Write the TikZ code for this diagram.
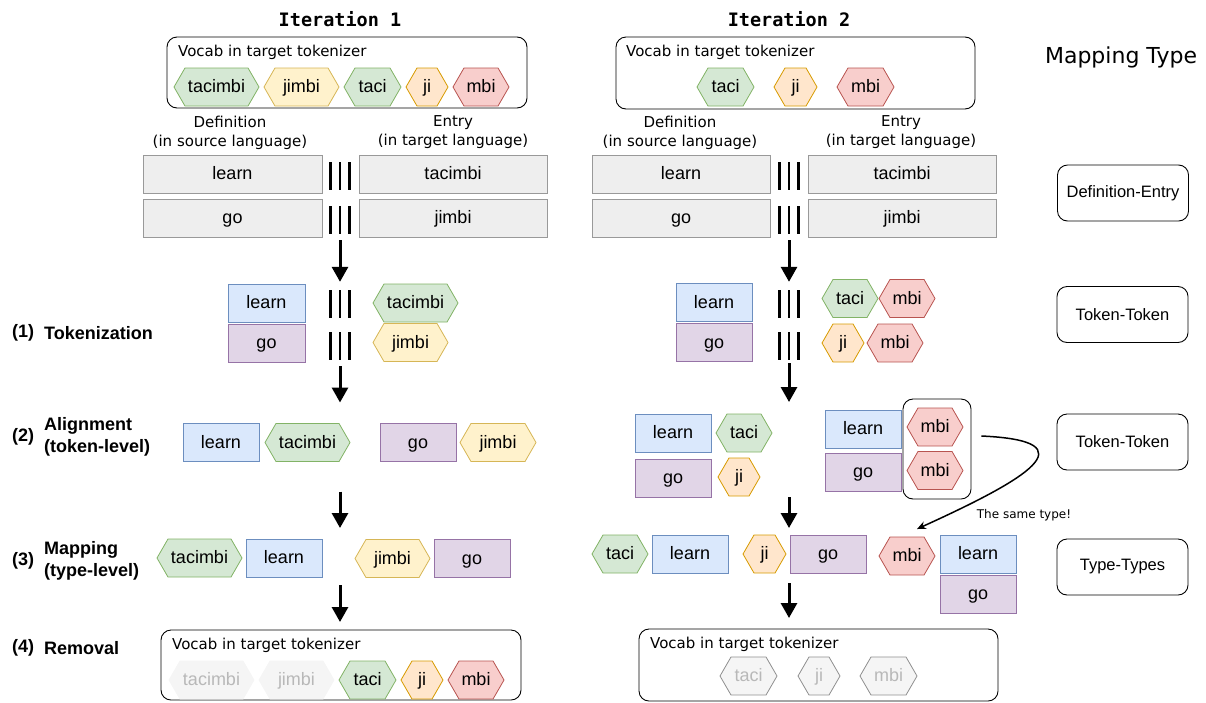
\documentclass[tikz,border=0pt]{standalone}
\usepackage{fontspec}
\setmainfont{Liberation Sans}
\newfontfamily\dejavu{DejaVu Sans}
\newfontfamily\dejavumono{DejaVu Sans Mono}
\usetikzlibrary{arrows.meta,positioning,shapes.symbols}
\definecolor{BlueFill}{HTML}{DAE8FC}
\definecolor{BlueLine}{HTML}{6C8EBF}
\definecolor{PurpleFill}{HTML}{E1D5E7}
\definecolor{PurpleLine}{HTML}{9673A6}
\definecolor{GreenFill}{HTML}{D5E8D4}
\definecolor{GreenLine}{HTML}{82B366}
\definecolor{YellowFill}{HTML}{FFF2CC}
\definecolor{YellowLine}{HTML}{D6B656}
\definecolor{OrangeFill}{HTML}{FFE6CC}
\definecolor{OrangeLine}{HTML}{D79B00}
\definecolor{RedFill}{HTML}{F8CECC}
\definecolor{RedLine}{HTML}{B85450}
\definecolor{GoneFill}{HTML}{F5F5F5}
\definecolor{GoneLine}{HTML}{8F8F8F}
\definecolor{GoneText}{HTML}{B8B8B8}
\definecolor{DictFill}{HTML}{EEEEEE}
\definecolor{DictLine}{HTML}{999999}
\newcommand\tokfont{\fontsize{18}{22}\selectfont}
\newcommand\notefont{\dejavu\fontsize{15}{19}\selectfont}
\newcommand\typefont{\fontsize{16.5}{19}\selectfont}
\newcommand\titlefont{\dejavumono\bfseries\fontsize{18.5}{22}\selectfont}
\tikzset{
  hexa/.style={shape=signal, signal to=east and west, signal pointer angle=120,
    minimum width=#1, minimum height=38pt, inner xsep=1pt, inner ysep=0pt,
    text height=14pt, text depth=3pt,
    outer sep=0pt, line width=0.8pt, font=\tokfont},
  hexa/.default=56pt,
  hgreen/.style={hexa=#1, fill=GreenFill, draw=GreenLine}, hgreen/.default=56pt,
  hyellow/.style={hexa=#1, fill=YellowFill, draw=YellowLine}, hyellow/.default=75pt,
  horange/.style={hexa=#1, fill=OrangeFill, draw=OrangeLine}, horange/.default=42pt,
  hred/.style={hexa=#1, fill=RedFill, draw=RedLine}, hred/.default=56pt,
  gone/.style={hexa=#1, fill=GoneFill, draw=GoneFill, text=GoneText},
  gonelined/.style={hexa=#1, fill=GoneFill, draw=GoneLine, text=GoneText},
  tok/.style={rectangle, minimum width=76pt, minimum height=38pt, inner sep=0pt,
    text height=14pt, text depth=3pt,
    outer sep=0pt, line width=0.8pt, font=\tokfont},
  tblue/.style={tok, fill=BlueFill, draw=BlueLine},
  tpurple/.style={tok, fill=PurpleFill, draw=PurpleLine},
  dict/.style={rectangle, fill=DictFill, draw=DictLine, line width=0.8pt,
    text height=14pt, text depth=3pt,
    minimum width=#1, minimum height=38pt, outer sep=0pt, font=\tokfont},
  vocab/.style={draw, rounded corners=10pt, line width=0.9pt, minimum width=360pt,
    minimum height=71pt, outer sep=0pt},
  vlabel/.style={anchor=west, inner sep=0pt, font=\notefont},
  mtype/.style={draw, rounded corners=10pt, line width=0.9pt, minimum width=131pt,
    minimum height=56pt, font=\typefont},
  bars/.style={minimum width=26pt, minimum height=28pt, inner sep=0pt,
    path picture={\foreach \dx in {-9.5,0,9.5}
      \draw[line width=2.6pt] ([xshift=\dx pt]path picture bounding box.north)
        -- ([xshift=\dx pt]path picture bounding box.south);}},
  flow/.style={-{Triangle[length=15pt,width=16pt]}, line width=3pt},
  stepno/.style={anchor=west, inner sep=0pt, font=\tokfont\bfseries},
  steptext/.style={anchor=west, inner sep=0pt, align=left, font=\tokfont\bfseries}
}

\begin{document}
\begin{tikzpicture}[x=1pt, y=-1pt]
  \useasboundingbox (0,0) rectangle (1206,702);

  % titles
  \node[font=\titlefont] (it1) at (340,19) {Iteration 1};
  \node[font=\titlefont] (it2) at (789,19) {Iteration 2};
  \node[font=\dejavu\fontsize{22}{26}\selectfont] (mtitle) at (1121,57) {Mapping Type};

  % step labels
  \node[stepno] (n1) at (12,333) {(1)};
  \node[steptext] (s1) at (44,333) {Tokenization};
  \node[stepno] (n2) at (12,437) {(2)};
  \node[steptext] (s2) at (44,437) {Alignment\\(token-level)};
  \node[stepno] (n3) at (12,561) {(3)};
  \node[steptext] (s3) at (44,561) {Mapping\\(type-level)};
  \node[stepno] (n4) at (12,648) {(4)};
  \node[steptext] (s4) at (44,648) {Removal};

  % mapping types
  \node[mtype] (mt1) at (1123,193) {Definition-Entry};
  \node[mtype] (mt2) at (1122.5,314.5) {Token-Token};
  \node[mtype] (mt3) at (1122.5,442) {Token-Token};
  \node[mtype] (mt4) at (1122.5,567) {Type-Types};

  %% Iteration 1
  \node[vocab] (vb1) at (347,72.5) {};
  \node[vlabel] (vl1) at (178,52) {Vocab in target tokenizer};
  \node[hgreen=85pt, anchor=west] (v1a) at (174,87) {tacimbi};
  \node[hyellow=75pt, right=5pt of v1a] (v1b) {jimbi};
  \node[hgreen=57pt, right=5pt of v1b] (v1c) {taci};
  \node[horange, right=5pt of v1c] (v1d) {ji};
  \node[hred, right=5pt of v1d] (v1e) {mbi};

  \node[align=center, font=\notefont] (def1) at (230,132.5) {Definition\\(in source language)};
  \node[align=center, font=\notefont] (ent1) at (453,132.5) {Entry\\(in target language)};
  \node[dict=179pt] (d1a) at (232.5,174) {learn};
  \node[dict=179pt, below=6pt of d1a] (d1b) {go};
  \node[dict=188pt] (d1c) at (453,174) {tacimbi};
  \node[dict=188pt, below=6pt of d1c] (d1d) {jimbi};
  \node[bars] (b1a) at (340,176) {};
  \node[bars] (b1b) at (340,220) {};

  \node[tblue, minimum width=77pt, anchor=west] (t1a) at (228,303) {learn};
  \node[tpurple, minimum width=77pt, below=2pt of t1a] (t1b) {go};
  \node[bars] (b1c) at (340,304) {};
  \node[bars] (b1d) at (340,346) {};
  \node[hgreen=85pt, anchor=west] (t1c) at (373,303) {tacimbi};
  \node[hyellow=75pt, anchor=west] (t1d) at (373,342.5) {jimbi};

  \node[tblue, anchor=west] (al1a) at (183,442.5) {learn};
  \node[hgreen=85pt, right=6pt of al1a] (al1b) {tacimbi};
  \node[tpurple, anchor=west] (al1c) at (380,442.5) {go};
  \node[hyellow=76pt, right=4pt of al1c] (al1d) {jimbi};

  \node[hgreen=85pt, anchor=west] (m1a) at (157,558) {tacimbi};
  \node[tblue, right=4pt of m1a] (m1b) {learn};
  \node[hyellow=75pt, anchor=west] (m1c) at (355,558.5) {jimbi};
  \node[tpurple, right=4pt of m1c] (m1d) {go};

  \node[vocab, minimum height=70pt] (vb3) at (341,665) {};
  \node[vlabel] (vl3) at (172,645) {Vocab in target tokenizer};
  \node[gone=85pt, anchor=west] (r1a) at (169,680) {tacimbi};
  \node[gone=75pt, right=5pt of r1a] (r1b) {jimbi};
  \node[hgreen=57pt, right=5pt of r1b] (r1c) {taci};
  \node[horange, right=5pt of r1c] (r1d) {ji};
  \node[hred, right=5pt of r1d] (r1e) {mbi};

  \draw[flow, shorten <=6pt, shorten >=8pt] (b1b.south) -- (b1c.north);
  \draw[flow, shorten <=6pt, shorten >=21pt] (b1d.south) -- (b1d.south |- al1a.north);
  \draw[flow, shorten <=30pt, shorten >=11pt] (b1d.south |- al1a.south) -- (b1d.south |- m1a.north);
  \draw[flow, shorten <=8pt, shorten >=8pt] (b1d.south |- m1a.south) -- (b1d.south |- vb3.north);

  %% Iteration 2
  \node[vocab, minimum width=359pt, minimum height=72pt] (vb2) at (795.5,73) {};
  \node[vlabel] (vl2) at (626,52) {Vocab in target tokenizer};
  \node[hgreen=57pt, anchor=west] (v2a) at (697,87) {taci};
  \node[horange=43pt, right=20pt of v2a] (v2b) {ji};
  \node[hred=57pt, right=20pt of v2b] (v2c) {mbi};

  \node[align=center, font=\notefont] (def2) at (680,132.5) {Definition\\(in source language)};
  \node[align=center, font=\notefont] (ent2) at (901,132.5) {Entry\\(in target language)};
  \node[dict=178pt] (d2a) at (681,174) {learn};
  \node[dict=178pt, below=6pt of d2a] (d2b) {go};
  \node[dict=188pt] (d2c) at (902,174) {tacimbi};
  \node[dict=188pt, below=6pt of d2c] (d2d) {jimbi};
  \node[bars] (b2a) at (789,176) {};
  \node[bars] (b2b) at (789,220) {};

  \node[tblue, anchor=west] (t2a) at (676,302.5) {learn};
  \node[tpurple, below=2pt of t2a] (t2b) {go};
  \node[bars] (b2c) at (789,304) {};
  \node[bars] (b2d) at (789,346) {};
  \node[hgreen, anchor=west] (t2c) at (822,298.5) {taci};
  \node[hred, right=1pt of t2c] (t2d) {mbi};
  \node[horange, anchor=west] (t2e) at (822,343) {ji};
  \node[hred, right=3pt of t2e] (t2f) {mbi};

  \node[tblue, anchor=west] (al2a) at (635,433) {learn};
  \node[hgreen, right=5pt of al2a] (al2b) {taci};
  \node[tpurple, anchor=west] (al2c) at (635,478) {go};
  \node[horange, anchor=west] (al2d) at (718,477) {ji};
  \node[tblue, anchor=west] (al2e) at (825,429) {learn};
  \node[tpurple, below=5pt of al2e] (al2f) {go};
  \node[draw, rounded corners=10pt, line width=0.9pt, minimum width=68pt,
    minimum height=100pt] (grp) at (937,449) {};
  \node[hred] (al2g) at (935,427) {mbi};
  \node[hred] (al2h) at (935,470.5) {mbi};

  \node[hgreen, anchor=west] (m2a) at (592,554) {taci};
  \node[tblue, right=4pt of m2a] (m2b) {learn};
  \node[horange=43pt, anchor=west] (m2c) at (743,554) {ji};
  \node[tpurple, right=4pt of m2c] (m2d) {go};
  \node[hred, anchor=west] (m2e) at (879,556) {mbi};
  \node[tblue, anchor=west] (m2f) at (940,554) {learn};
  \node[tpurple, below=2pt of m2f] (m2g) {go};

  \node[vocab, minimum width=359pt, minimum height=72pt] (vb4) at (818.5,665) {};
  \node[vlabel] (vl4) at (650,644) {Vocab in target tokenizer};
  \node[gonelined=57pt, anchor=west] (r2a) at (720,676) {taci};
  \node[gonelined=42pt, right=21pt of r2a] (r2b) {ji};
  \node[gonelined=57pt, right=20pt of r2b] (r2c) {mbi};

  \draw[flow, shorten <=6pt, shorten >=8pt] (b2b.south) -- (b2c.north);
  \draw[flow, shorten <=3pt, shorten >=12pt] (b2d.south) -- (b2d.south |- al2a.north);
  \draw[flow, shorten >=7pt] (b2d.south |- al2c.south) -- (b2d.south |- m2a.north);
  \draw[flow, shorten <=10pt, shorten >=11pt] (b2d.south |- m2a.south) -- (b2d.south |- vb4.north);

  \draw[-{Stealth[length=9pt,width=8pt]}, line width=1.5pt]
    ([xshift=10pt,yshift=13pt]grp.east) .. controls +(110,5) and +(110,-50) ..
    ([xshift=10pt,yshift=8pt]m2e.north);
  \node[font=\dejavu\fontsize{12}{14}\selectfont] (samelbl) at (1024,515) {The same type!};
\end{tikzpicture}
\end{document}
